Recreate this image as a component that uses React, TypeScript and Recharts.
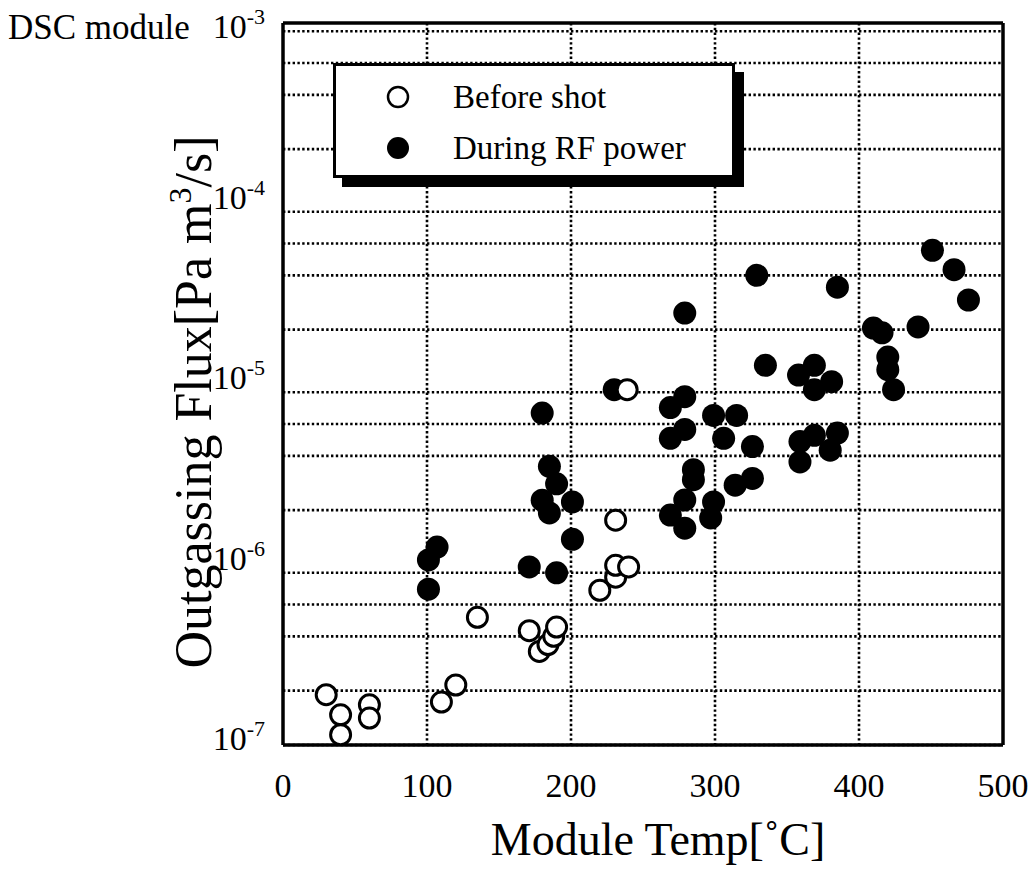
import React from "react";
import {
  ScatterChart,
  Scatter,
  XAxis,
  YAxis,
  CartesianGrid,
  Legend,
} from "recharts";

const serif = "'Liberation Serif', 'Times New Roman', 'DejaVu Serif', serif";

// temp [°C] vs outgassing flux [Pa m3/s]
const beforeShot = [
  { temp: 30, flux: 1.9e-7 },
  { temp: 40, flux: 1.47e-7 },
  { temp: 40, flux: 1.14e-7 },
  { temp: 60, flux: 1.67e-7 },
  { temp: 60, flux: 1.41e-7 },
  { temp: 110, flux: 1.73e-7 },
  { temp: 120, flux: 2.15e-7 },
  { temp: 135, flux: 5.1e-7 },
  { temp: 171, flux: 4.3e-7 },
  { temp: 178, flux: 3.3e-7 },
  { temp: 184, flux: 3.6e-7 },
  { temp: 188, flux: 4.0e-7 },
  { temp: 190, flux: 4.5e-7 },
  { temp: 220, flux: 7.2e-7 },
  { temp: 231, flux: 8.5e-7 },
  { temp: 231, flux: 9.9e-7 },
  { temp: 240, flux: 9.7e-7 },
  { temp: 231, flux: 1.76e-6 },
  { temp: 239, flux: 9.3e-6 },
];

const duringRF = [
  { temp: 101, flux: 1.06e-6 },
  { temp: 107, flux: 1.25e-6 },
  { temp: 101, flux: 7.3e-7 },
  { temp: 171, flux: 9.7e-7 },
  { temp: 190, flux: 9.0e-7 },
  { temp: 180, flux: 6.9e-6 },
  { temp: 185, flux: 3.5e-6 },
  { temp: 190, flux: 2.8e-6 },
  { temp: 180, flux: 2.27e-6 },
  { temp: 185, flux: 1.93e-6 },
  { temp: 201, flux: 2.22e-6 },
  { temp: 201, flux: 1.38e-6 },
  { temp: 230, flux: 9.3e-6 },
  { temp: 279, flux: 2.47e-5 },
  { temp: 329, flux: 4.0e-5 },
  { temp: 385, flux: 3.44e-5 },
  { temp: 451, flux: 5.5e-5 },
  { temp: 466, flux: 4.3e-5 },
  { temp: 476, flux: 2.92e-5 },
  { temp: 410, flux: 2.04e-5 },
  { temp: 416, flux: 1.92e-5 },
  { temp: 441, flux: 2.07e-5 },
  { temp: 420, flux: 1.41e-5 },
  { temp: 420, flux: 1.2e-5 },
  { temp: 424, flux: 9.3e-6 },
  { temp: 335, flux: 1.27e-5 },
  { temp: 358, flux: 1.12e-5 },
  { temp: 369, flux: 1.27e-5 },
  { temp: 381, flux: 1.03e-5 },
  { temp: 369, flux: 9.3e-6 },
  { temp: 279, flux: 8.5e-6 },
  { temp: 269, flux: 7.4e-6 },
  { temp: 299, flux: 6.7e-6 },
  { temp: 315, flux: 6.7e-6 },
  { temp: 279, flux: 5.6e-6 },
  { temp: 269, flux: 5.0e-6 },
  { temp: 306, flux: 5.0e-6 },
  { temp: 326, flux: 4.5e-6 },
  { temp: 359, flux: 4.8e-6 },
  { temp: 369, flux: 5.2e-6 },
  { temp: 385, flux: 5.35e-6 },
  { temp: 380, flux: 4.3e-6 },
  { temp: 359, flux: 3.7e-6 },
  { temp: 285, flux: 3.35e-6 },
  { temp: 285, flux: 2.95e-6 },
  { temp: 314, flux: 2.75e-6 },
  { temp: 326, flux: 3.0e-6 },
  { temp: 279, flux: 2.28e-6 },
  { temp: 269, flux: 1.88e-6 },
  { temp: 279, flux: 1.59e-6 },
  { temp: 299, flux: 2.22e-6 },
  { temp: 297, flux: 1.81e-6 },
];

const xLabelTicks = [0, 100, 200, 300, 400, 500];
const xMajorTicks = [100, 200, 300, 400];
const xMinorTicks = [
  20, 40, 60, 80, 120, 140, 160, 180, 220, 240, 260, 280, 320, 340, 360, 380,
  420, 440, 460, 480,
];
const yDecadeTicks = [1e-7, 1e-6, 1e-5, 1e-4, 1e-3];
const yMinorTicks = [
  2e-7, 3e-7, 4e-7, 5e-7, 6e-7, 7e-7, 8e-7, 9e-7,
  2e-6, 3e-6, 4e-6, 5e-6, 6e-6, 7e-6, 8e-6, 9e-6,
  2e-5, 3e-5, 4e-5, 5e-5, 6e-5, 7e-5, 8e-5, 9e-5,
  2e-4, 3e-4, 4e-4, 5e-4, 6e-4, 7e-4, 8e-4, 9e-4,
];
const yGridValues = [...yDecadeTicks, ...yMinorTicks];

const xDomain = [0, 500];
const yDomain = [1e-7, 1e-3];

const AXIS = { stroke: "#000", strokeWidth: 3.5 };
const TICK = { stroke: "#000", strokeWidth: 3 };

const DecadeTick = (props: any) => {
  const { x, y, payload } = props;
  const exp = Math.round(Math.log10(payload.value));
  // the top label sits a bit lower so its superscript stays on the page
  const base = Math.max(y + 5, 38);
  return (
    <text
      x={x}
      y={base}
      textAnchor="end"
      fontFamily={serif}
      fontSize={34}
      fill="#000"
    >
      10
      <tspan dy={-14} fontSize={22}>
        {exp}
      </tspan>
    </text>
  );
};

const openDot = (p: any) => (
  <circle cx={p.cx} cy={p.cy} r={10} fill="#fff" stroke="#000" strokeWidth={3} />
);
const fullDot = (p: any) => <circle cx={p.cx} cy={p.cy} r={11.5} fill="#000" />;

const LegendBox = (props: any) => {
  const items = props.payload || [];
  return (
    <div
      style={{
        position: "relative",
        width: 402,
        height: 115,
        boxSizing: "border-box",
        border: "3px solid #000",
        background: "#fff",
        boxShadow: "9px 9px 0 #000",
        fontFamily: serif,
        fontSize: 33,
        color: "#000",
      }}
    >
      {items.map((entry: any, i: number) => (
        <div
          key={entry.value}
          style={{
            position: "absolute",
            left: 0,
            top: 14 + i * 51,
            height: 34,
            lineHeight: "34px",
            whiteSpace: "nowrap",
          }}
        >
          <svg
            width={30}
            height={30}
            style={{ position: "absolute", left: 47, top: 2 }}
          >
            <circle
              cx={15}
              cy={15}
              r={entry.color === "#fff" ? 10 : 11}
              fill={entry.color}
              stroke="#000"
              strokeWidth={entry.color === "#fff" ? 2.5 : 0}
            />
          </svg>
          <span style={{ position: "absolute", left: 117, top: 0 }}>
            {entry.value}
          </span>
        </div>
      ))}
    </div>
  );
};

export default function App() {
  return (
    <div
      style={{
        position: "absolute",
        left: 0,
        top: 0,
        width: 1034,
        height: 872,
        background: "#fff",
      }}
    >
      <div
        style={{
          position: "absolute",
          left: 8,
          top: 11,
          fontFamily: serif,
          fontSize: 35,
          lineHeight: "33px",
          whiteSpace: "nowrap",
          color: "#000",
        }}
      >
        DSC module
      </div>
      <ScatterChart
        width={1034}
        height={872}
        margin={{ top: 23, right: 31, left: 183, bottom: 0 }}
      >
        <CartesianGrid
          xAxisId="x"
          yAxisId="y"
          horizontalValues={yGridValues}
          verticalValues={xMajorTicks}
          stroke="#000"
          strokeWidth={2.6}
          strokeDasharray="2.4 2.4"
        />
        <XAxis
          xAxisId="x"
          dataKey="temp"
          type="number"
          domain={xDomain}
          allowDataOverflow
          ticks={xLabelTicks}
          tickLine={false}
          tickSize={0}
          tickMargin={28}
          axisLine={AXIS}
          height={127}
          tick={{ fontSize: 34, fill: "#000", fontFamily: serif }}
          label={{
            content: (p: any) => (
              <text
                x={p.viewBox.x + p.viewBox.width / 2 + 15}
                y={p.viewBox.y + 110}
                textAnchor="middle"
                fontFamily={serif}
                fontSize={46}
                fill="#000"
              >
                Module Temp[˚C]
              </text>
            ),
          }}
        />
        <XAxis
          xAxisId="xb1"
          type="number"
          domain={xDomain}
          allowDataOverflow
          mirror
          height={1}
          ticks={xMinorTicks}
          tickSize={9}
          tick={false}
          tickLine={TICK}
          axisLine={false}
        />
        <XAxis
          xAxisId="xb2"
          type="number"
          domain={xDomain}
          allowDataOverflow
          mirror
          height={1}
          ticks={xMajorTicks}
          tickSize={15}
          tick={false}
          tickLine={TICK}
          axisLine={false}
        />
        <XAxis
          xAxisId="xt1"
          orientation="top"
          type="number"
          domain={xDomain}
          allowDataOverflow
          mirror
          height={1}
          ticks={xMinorTicks}
          tickSize={7}
          tick={false}
          tickLine={TICK}
          axisLine={AXIS}
        />
        <XAxis
          xAxisId="xt2"
          orientation="top"
          type="number"
          domain={xDomain}
          allowDataOverflow
          mirror
          height={1}
          ticks={xMajorTicks}
          tickSize={12}
          tick={false}
          tickLine={TICK}
          axisLine={false}
        />
        <YAxis
          yAxisId="y"
          dataKey="flux"
          type="number"
          scale="log"
          domain={yDomain}
          allowDataOverflow
          ticks={yDecadeTicks}
          tickLine={false}
          tickSize={0}
          tickMargin={18}
          axisLine={AXIS}
          width={100}
          tick={<DecadeTick />}
          label={{
            content: (p: any) => {
              const cx = p.viewBox.x + 11;
              const cy = p.viewBox.y + p.viewBox.height / 2 + 18;
              return (
                <text
                  x={cx}
                  y={cy}
                  dy="0.33em"
                  transform={`rotate(-90, ${cx}, ${cy})`}
                  textAnchor="middle"
                  fontFamily={serif}
                  fontSize={52}
                  fill="#000"
                >
                  Outgassing Flux[Pa m
                  <tspan dy={-20} fontSize={32}>
                    3
                  </tspan>
                  <tspan dy={20}>/s]</tspan>
                </text>
              );
            },
          }}
        />
        <YAxis
          yAxisId="yl1"
          type="number"
          scale="log"
          domain={yDomain}
          allowDataOverflow
          mirror
          width={1}
          ticks={yMinorTicks}
          tickSize={10}
          tick={false}
          tickLine={TICK}
          axisLine={false}
        />
        <YAxis
          yAxisId="yl2"
          type="number"
          scale="log"
          domain={yDomain}
          allowDataOverflow
          mirror
          width={1}
          ticks={yDecadeTicks}
          tickSize={18}
          tick={false}
          tickLine={TICK}
          axisLine={false}
        />
        <YAxis
          yAxisId="yr1"
          orientation="right"
          type="number"
          scale="log"
          domain={yDomain}
          allowDataOverflow
          mirror
          width={1}
          ticks={yMinorTicks}
          tickSize={10}
          tick={false}
          tickLine={TICK}
          axisLine={AXIS}
        />
        <YAxis
          yAxisId="yr2"
          orientation="right"
          type="number"
          scale="log"
          domain={yDomain}
          allowDataOverflow
          mirror
          width={1}
          ticks={yDecadeTicks}
          tickSize={18}
          tick={false}
          tickLine={TICK}
          axisLine={false}
        />
        <Legend
          verticalAlign="middle"
          align="center"
          layout="horizontal"
          content={<LegendBox />}
          wrapperStyle={{ position: "absolute", left: 333, top: 63, width: 402, height: 115 }}
        />
        <Scatter
          name="During RF power"
          data={duringRF}
          xAxisId="x"
          yAxisId="y"
          fill="#000"
          shape={fullDot}
          isAnimationActive={false}
        />
        <Scatter
          name="Before shot"
          data={beforeShot}
          xAxisId="x"
          yAxisId="y"
          fill="#fff"
          stroke="#000"
          shape={openDot}
          isAnimationActive={false}
        />
      </ScatterChart>
    </div>
  );
}
